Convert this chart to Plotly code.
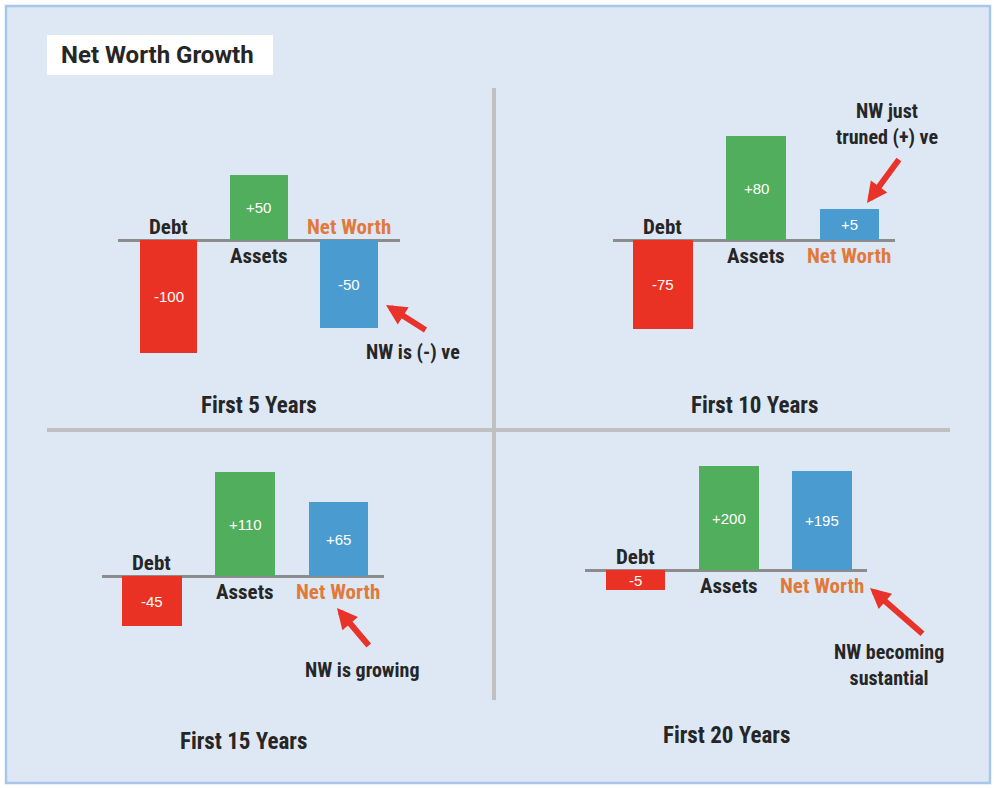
import plotly.graph_objects as go

W, H = 994, 788

# ---------------- data ----------------
categories = ["Debt", "Assets", "Net Worth"]
panel_titles = ["First 5 Years", "First 10 Years", "First 15 Years", "First 20 Years"]
values_5 = [-100, 50, -50]
values_10 = [-75, 80, 5]
values_15 = [-45, 110, 65]
values_20 = [-5, 200, 195]
# bar lengths as drawn in the picture (the original graphic is not to scale)
heights_5 = [-113, 65, -88]
heights_10 = [-89, 104, 31]
heights_15 = [-50, 104, 74]
heights_20 = [-20, 104, 99]
notes = [["NW is (-) ve"], ["NW just", "truned (+) ve"], ["NW is growing"], ["NW becoming", "sustantial"]]

values = [values_5, values_10, values_15, values_20]
heights = [heights_5, heights_10, heights_15, heights_20]

# ---------------- styles ----------------
bar_colors = ["#e93223", "#50ae5c", "#4a9bd0"]
label_colors = ["#262626", "#262626", "#e07a3c"]
BG = "#dee8f4"
DARK = "#262626"
ARROW = "#e8322a"
COND = "Roboto, sans-serif"


def cond(lines):
    return "<br>".join(f"<span style='font-stretch:condensed'><b>{t}</b></span>" for t in lines)


def px(x):
    return x / W


def py(y):
    return 1 - y / H


# panel layout (pixels)
panels = [
    dict(xdom=(118, 400), base=240, top=120, bot=380, xr=(-0.56, 2.565),
         title=(259, 405), note=(413, 352), head=(386, 305), tail=(427, 331)),
    dict(xdom=(613, 895), base=240, top=120, bot=380, xr=(-0.536, 2.488),
         title=(754, 405), note=(887, 124), head=(867, 203), tail=(900, 158)),
    dict(xdom=(102, 384), base=576, top=456, bot=716, xr=(-0.536, 2.488),
         title=(243, 741), note=(362, 670), head=(337, 608), tail=(370, 647)),
    dict(xdom=(585, 867), base=570, top=450, bot=710, xr=(-0.542, 2.482),
         title=(726, 735), note=(889, 665), head=(870, 588), tail=(924, 635)),
]

fig = go.Figure()
annotations = []
shapes = []

# background frame
shapes.append(dict(type="rect", xref="paper", yref="paper", x0=px(6), x1=px(990), y0=py(783), y1=py(6),
                   fillcolor=BG, line=dict(color="#a9c6e8", width=2.5), layer="below"))
# title box
shapes.append(dict(type="rect", xref="paper", yref="paper", x0=px(47), x1=px(273), y0=py(75), y1=py(35),
                   fillcolor="white", line=dict(width=0), layer="below"))
# dividers
shapes.append(dict(type="line", xref="paper", yref="paper", x0=px(494), x1=px(494), y0=py(700), y1=py(88),
                   line=dict(color="#c0c0c0", width=4), layer="below"))
shapes.append(dict(type="line", xref="paper", yref="paper", x0=px(47), x1=px(950), y0=py(430), y1=py(430),
                   line=dict(color="#c0c0c0", width=4), layer="below"))

annotations.append(dict(text="<b>Net Worth Growth</b>", xref="paper", yref="paper", x=px(59), y=py(55),
                        xanchor="left", yanchor="middle", showarrow=False,
                        font=dict(family="Roboto, Inter, sans-serif", size=24, color=DARK)))

layout_axes = {}
for i, (p, vals, hts) in enumerate(zip(panels, values, heights)):
    n = "" if i == 0 else str(i + 1)
    xa, ya = "x" + n, "y" + n
    rng_lo = -(p["bot"] - p["base"])
    rng_hi = p["base"] - p["top"]
    layout_axes["xaxis" + n] = dict(domain=[px(p["xdom"][0]), px(p["xdom"][1])], anchor=ya,
                                    range=list(p["xr"]), type="category", categoryorder="array",
                                    categoryarray=categories, showticklabels=False, showgrid=False,
                                    zeroline=False, showline=False, ticks="", fixedrange=True)
    layout_axes["yaxis" + n] = dict(domain=[py(p["bot"]), py(p["top"])], anchor=xa,
                                    range=[rng_lo, rng_hi], showticklabels=False, showgrid=False,
                                    zeroline=True, zerolinecolor="#8c8c8c", zerolinewidth=2.5,
                                    showline=False, ticks="", fixedrange=True)
    fig.add_trace(go.Bar(x=categories, y=hts, width=0.64, marker=dict(color=bar_colors, line=dict(width=0)),
                         xaxis=xa, yaxis=ya, showlegend=False, hoverinfo="skip"))
    for j, (cat, v, h) in enumerate(zip(categories, vals, hts)):
        # value inside bar
        annotations.append(dict(text=f"{v:+d}", xref=xa, yref=ya, x=cat, y=h / 2, showarrow=False,
                                xanchor="center", yanchor="middle",
                                font=dict(family="Liberation Sans, Arial, sans-serif", size=15, color="white")))
        # category label on the opposite side of the baseline
        shift = 13 if h < 0 else -16
        annotations.append(dict(text=cond([cat]), xref=xa, yref=ya, x=cat, y=0, yshift=shift,
                                showarrow=False, xanchor="center", yanchor="middle",
                                font=dict(family=COND, size=21, color=label_colors[j])))
    # panel title
    annotations.append(dict(text=cond([panel_titles[i]]), xref="paper", yref="paper",
                            x=px(p["title"][0]), y=py(p["title"][1]), showarrow=False,
                            xanchor="center", yanchor="middle",
                            font=dict(family=COND, size=23, color=DARK)))
    # note text
    annotations.append(dict(text=cond(notes[i]), xref="paper", yref="paper",
                            x=px(p["note"][0]), y=py(p["note"][1]), showarrow=False,
                            xanchor="center", yanchor="middle",
                            font=dict(family=COND, size=20, color=DARK)))
    # arrow
    hx, hy = p["head"]
    tx, ty = p["tail"]
    annotations.append(dict(text="", xref="paper", yref="paper", x=px(hx), y=py(hy),
                            ax=tx - hx, ay=ty - hy, axref="pixel", ayref="pixel",
                            showarrow=True, arrowhead=2, arrowsize=0.68, arrowwidth=6,
                            arrowcolor=ARROW, standoff=0))

fig.update_layout(
    width=W, height=H, autosize=False,
    margin=dict(l=0, r=0, t=0, b=0),
    paper_bgcolor="white", plot_bgcolor="rgba(0,0,0,0)",
    shapes=shapes, annotations=annotations, showlegend=False,
    bargap=0, **layout_axes,
)

fig.write_html("out.html", include_plotlyjs=True, config={"displayModeBar": False})
